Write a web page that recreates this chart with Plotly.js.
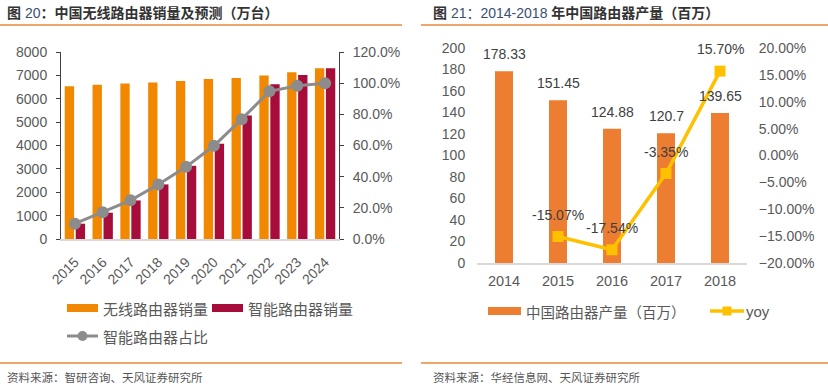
<!DOCTYPE html>
<html>
<head>
<meta charset="utf-8">
<script src="https://cdn.plot.ly/plotly-3.0.1.min.js"></script>
<style>html,body{margin:0;padding:0;background:#fff;}#chart{width:828px;height:391px;}</style>
</head>
<body>
<div id="chart"></div>
<script>
// ---- Data (left chart) ----
const years1 = ['2015','2016','2017','2018','2019','2020','2021','2022','2023','2024'];
const wirelessSales = [6530, 6600, 6650, 6690, 6760, 6850, 6890, 6990, 7130, 7310];
const smartSales = [655, 1125, 1650, 2335, 3130, 4070, 5280, 6620, 7020, 7300];
const smartShare = [0.098, 0.171, 0.248, 0.350, 0.463, 0.598, 0.769, 0.948, 0.984, 0.999];

// ---- Data (right chart) ----
const years2 = ['2014','2015','2016','2017','2018'];
const routerOutput = [178.33, 151.45, 124.88, 120.7, 139.65];
const routerYoy = [null, -0.1507, -0.1754, -0.0335, 0.1570];
const routerYoyLabels = ['', '-15.07%', '-17.54%', '-3.35%', '15.70%'];

const W = 828, H = 391;
const px = x => x / W;
const py = y => 1 - y / H;
const FONT = 'Liberation Sans, Arial, Noto Sans CJK SC, sans-serif';
const CJK = 'Noto Sans CJK SC, Liberation Sans, sans-serif';
const TICK = {family: FONT, size: 14, color: '#595959'};

const cOrange = '#F18800';
const cCrimson = '#A60D3A';
const cGray = '#8C8C8C';
const cBar2 = '#ED7D31';
const cYoy = '#FFC000';
const cRule = '#E8883A';

const traces = [
  {type: 'bar', x: years1, y: wirelessSales, name: '无线路由器销量', marker: {color: cOrange}, xaxis: 'x', yaxis: 'y'},
  {type: 'bar', x: years1, y: smartSales, name: '智能路由器销量', marker: {color: cCrimson}, xaxis: 'x', yaxis: 'y'},
  {type: 'scatter', mode: 'lines+markers', x: years1, y: smartShare, name: '智能路由器占比', line: {color: cGray, width: 3}, marker: {color: cGray, size: 12}, xaxis: 'x', yaxis: 'y2'},
  {type: 'bar', x: years2, y: routerOutput, name: '中国路由器产量（百万）', width: 0.333, marker: {color: cBar2}, xaxis: 'x2', yaxis: 'y3'},
  {type: 'scatter', mode: 'lines+markers', x: years2, y: routerYoy, name: 'yoy', line: {color: cYoy, width: 3.5}, marker: {color: cYoy, size: 11, symbol: 'square'}, xaxis: 'x2', yaxis: 'y4', connectgaps: false}
];

const annotations = [];
const shapes = [];
const NUM = "font-weight:normal;color:#3B4F72";

// Headers
annotations.push({xref: 'paper', yref: 'paper', x: px(5), y: py(13), xanchor: 'left', yanchor: 'middle', showarrow: false,
  text: "<b>图 </b><span style='" + NUM + "'>20</span><b>：中国无线路由器销量及预测（万台）</b>", font: {family: FONT, size: 14, color: '#333333'}});
annotations.push({xref: 'paper', yref: 'paper', x: px(431), y: py(13), xanchor: 'left', yanchor: 'middle', showarrow: false,
  text: "<b>图 </b><span style='" + NUM + "'>21：2014-2018</span><b> 年中国路由器产量（百万）</b>", font: {family: FONT, size: 14, color: '#333333'}});
// Sources
annotations.push({xref: 'paper', yref: 'paper', x: px(5), y: py(377), xanchor: 'left', yanchor: 'middle', showarrow: false,
  text: '资料来源：智研咨询、天风证券研究所', font: {family: CJK, size: 11.5, color: '#555555'}});
annotations.push({xref: 'paper', yref: 'paper', x: px(431), y: py(377), xanchor: 'left', yanchor: 'middle', showarrow: false,
  text: '资料来源：华经信息网、天风证券研究所', font: {family: CJK, size: 11.5, color: '#555555'}});

// Rules
[[0, 402, 25], [421, 828, 25], [0, 402, 363], [421, 828, 363]].forEach(r => {
  shapes.push({type: 'line', xref: 'paper', yref: 'paper', x0: px(r[0]), x1: px(r[1]), y0: py(r[2]), y1: py(r[2]), line: {color: cRule, width: 1.5}});
});

// Left legend
shapes.push({type: 'rect', xref: 'paper', yref: 'paper', x0: px(67), x1: px(98), y0: py(304), y1: py(312), fillcolor: cOrange, line: {width: 0}});
annotations.push({xref: 'paper', yref: 'paper', x: px(101), y: py(308), xanchor: 'left', yanchor: 'middle', showarrow: false, text: traces[0].name, font: {family: CJK, size: 15, color: '#595959'}});
shapes.push({type: 'rect', xref: 'paper', yref: 'paper', x0: px(212), x1: px(243), y0: py(304), y1: py(312), fillcolor: cCrimson, line: {width: 0}});
annotations.push({xref: 'paper', yref: 'paper', x: px(246), y: py(308), xanchor: 'left', yanchor: 'middle', showarrow: false, text: traces[1].name, font: {family: CJK, size: 15, color: '#595959'}});
shapes.push({type: 'line', xref: 'paper', yref: 'paper', x0: px(67), x1: px(98), y0: py(336), y1: py(336), line: {color: cGray, width: 3}});
shapes.push({type: 'circle', xref: 'paper', yref: 'paper', x0: px(77.5), x1: px(87.5), y0: py(341), y1: py(331), fillcolor: cGray, line: {width: 0}});
annotations.push({xref: 'paper', yref: 'paper', x: px(101), y: py(336), xanchor: 'left', yanchor: 'middle', showarrow: false, text: traces[2].name, font: {family: CJK, size: 15, color: '#595959'}});

// Right legend
shapes.push({type: 'rect', xref: 'paper', yref: 'paper', x0: px(488), x1: px(521), y0: py(307), y1: py(315), fillcolor: cBar2, line: {width: 0}});
annotations.push({xref: 'paper', yref: 'paper', x: px(524), y: py(311), xanchor: 'left', yanchor: 'middle', showarrow: false, text: traces[3].name, font: {family: CJK, size: 14.5, color: '#595959'}});
shapes.push({type: 'line', xref: 'paper', yref: 'paper', x0: px(710), x1: px(744), y0: py(311), y1: py(311), line: {color: cYoy, width: 3.5}});
shapes.push({type: 'rect', xref: 'paper', yref: 'paper', x0: px(722.5), x1: px(731.5), y0: py(315.5), y1: py(306.5), fillcolor: cYoy, line: {width: 0}});
annotations.push({xref: 'paper', yref: 'paper', x: px(744), y: py(311), xanchor: 'left', yanchor: 'middle', showarrow: false, text: traces[4].name, font: {family: FONT, size: 15, color: '#595959'}});

// Data labels right chart
years2.forEach((yr, i) => {
  annotations.push({xref: 'x2', yref: 'y3', x: yr, y: routerOutput[i], yshift: 17, yanchor: 'middle', xanchor: 'center', showarrow: false,
    text: String(routerOutput[i]), font: {family: FONT, size: 14, color: '#404040'}});
  if (routerYoy[i] !== null) {
    annotations.push({xref: 'x2', yref: 'y4', x: yr, y: routerYoy[i], yshift: 22, yanchor: 'middle', xanchor: 'center', showarrow: false,
      text: routerYoyLabels[i], font: {family: FONT, size: 14, color: '#404040'}});
  }
});

const layout = {
  width: W, height: H,
  margin: {l: 0, r: 0, t: 0, b: 0},
  paper_bgcolor: '#ffffff', plot_bgcolor: 'rgba(0,0,0,0)',
  showlegend: false,
  barmode: 'group', bargap: 0.21, bargroupgap: 0.15,
  font: {family: FONT, color: '#595959'},
  xaxis: {domain: [px(61), px(339)], anchor: 'y', type: 'category', tickmode: 'array', tickvals: years1, ticktext: years1,
    range: [-0.5, years1.length - 0.5],
    showline: true, linecolor: '#D9D9D9', linewidth: 1.5, ticks: 'outside', ticklen: 8, tickcolor: 'rgba(0,0,0,0)', tickangle: -45,
    tickfont: TICK, showgrid: false, zeroline: false},
  yaxis: {domain: [py(239), py(52)], anchor: 'x', range: [0, 8000], dtick: 1000, showline: true, linecolor: '#404040', linewidth: 1,
    ticks: 'outside', ticklen: 4, tickcolor: '#404040', ticklabelstandoff: 6, tickfont: TICK, showgrid: false, zeroline: false},
  yaxis2: {overlaying: 'y', side: 'right', anchor: 'x', range: [0, 1.2], dtick: 0.2, tickformat: '.1%', showline: true, linecolor: '#404040', linewidth: 1,
    ticks: 'outside', ticklen: 4, tickcolor: '#404040', ticklabelstandoff: 6, tickfont: TICK, showgrid: false, zeroline: false},
  xaxis2: {domain: [px(477), px(747)], anchor: 'y3', type: 'linear', tickmode: 'array', tickvals: years2, ticktext: years2,
    range: [Number(years2[0]) - 0.5, Number(years2[years2.length - 1]) + 0.5],
    showline: true, linecolor: '#D9D9D9', linewidth: 1.5, ticks: 'outside', ticklen: 4, tickcolor: 'rgba(0,0,0,0)', tickangle: 0,
    tickfont: {family: FONT, size: 14.5, color: '#595959'}, showgrid: false, zeroline: false},
  yaxis3: {domain: [py(263), py(48)], anchor: 'x2', range: [0, 200], dtick: 20, showline: false, ticks: 'outside', ticklen: 8, tickcolor: 'rgba(0,0,0,0)',
    tickfont: TICK, showgrid: false, zeroline: false},
  yaxis4: {overlaying: 'y3', side: 'right', anchor: 'x2', range: [-0.2, 0.2], dtick: 0.05, tickformat: '.2%', showline: false, ticks: 'outside', ticklen: 8,
    tickcolor: 'rgba(0,0,0,0)', tickfont: TICK, showgrid: false, zeroline: false},
  annotations: annotations,
  shapes: shapes
};

Plotly.newPlot('chart', traces, layout, {displayModeBar: false, staticPlot: true});
</script>
</body>
</html>
